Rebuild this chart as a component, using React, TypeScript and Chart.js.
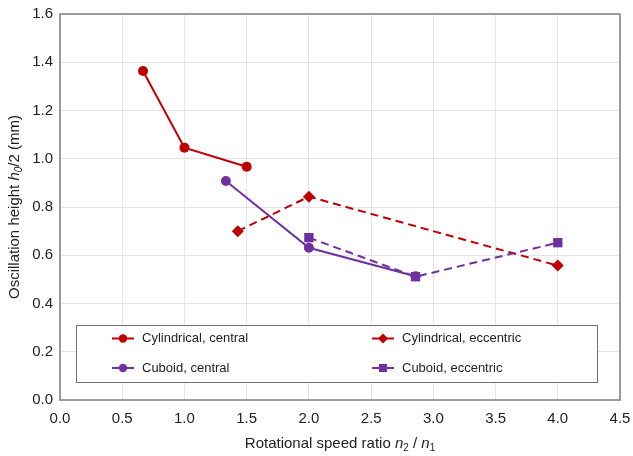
import React, { useEffect, useRef } from "react";
import { Chart, registerables } from "chart.js";

Chart.register(...registerables);

const RED = "#C00000";
const PURPLE = "#7030A0";
const FONT = "'Liberation Sans', Arial, sans-serif";

// Cylindrical, central
const cylCentralX = [0.667, 1.0, 1.5];
const cylCentralY = [1.364, 1.046, 0.967];
// Cuboid, central
const cubCentralX = [1.333, 2.0, 2.857];
const cubCentralY = [0.908, 0.631, 0.513];
// Cylindrical, eccentric
const cylEccX = [1.429, 2.0, 4.0];
const cylEccY = [0.7, 0.843, 0.557];
// Cuboid, eccentric
const cubEccX = [2.0, 2.857, 4.0];
const cubEccY = [0.673, 0.511, 0.652];

const seriesLabels = [
  "Cylindrical, central",
  "Cylindrical, eccentric",
  "Cuboid, central",
  "Cuboid, eccentric",
];

const xMin = 0, xMax = 4.5, xStep = 0.5;
const yMin = 0, yMax = 1.6, yStep = 0.2;

const pts = (xs: number[], ys: number[]) => xs.map((x, i) => ({ x, y: ys[i] }));

type Seg = { t: string; italic?: boolean; sub?: boolean };

function drawRich(ctx: CanvasRenderingContext2D, segs: Seg[], size: number) {
  const fontFor = (s: Seg) =>
    `${s.italic ? "italic " : ""}${s.sub ? Math.round(size * 0.67) : size}px ${FONT}`;
  let total = 0;
  const widths = segs.map((s) => {
    ctx.font = fontFor(s);
    const w = ctx.measureText(s.t).width;
    total += w;
    return w;
  });
  let x = -total / 2;
  segs.forEach((s, i) => {
    ctx.font = fontFor(s);
    ctx.fillText(s.t, x, s.sub ? size * 0.3 : 0);
    x += widths[i];
  });
}

const extrasPlugin = {
  id: "extras",
  beforeDatasetsDraw(chart: any) {
    const { ctx, chartArea: a } = chart;
    // legend box
    const left = a.left + 16;
    const right = a.right - 23;
    const top = a.bottom - 75;
    const bottom = a.bottom - 18;
    ctx.save();
    ctx.fillStyle = "#ffffff";
    ctx.fillRect(left, top, right - left, bottom - top);
    ctx.strokeStyle = "#707070";
    ctx.lineWidth = 1;
    ctx.strokeRect(left + 0.5, top + 0.5, right - left, bottom - top);

    const entries = [
      { label: seriesLabels[0], color: RED, shape: "circle", col: 0, row: 0 },
      { label: seriesLabels[1], color: RED, shape: "diamond", col: 1, row: 0 },
      { label: seriesLabels[2], color: PURPLE, shape: "circle", col: 0, row: 1 },
      { label: seriesLabels[3], color: PURPLE, shape: "square", col: 1, row: 1 },
    ];
    entries.forEach((e) => {
      const lx = left + (e.col === 0 ? 36 : 296);
      const ly = top + 13.5 + e.row * 29.5;
      ctx.strokeStyle = e.color;
      ctx.fillStyle = e.color;
      ctx.lineWidth = 2;
      ctx.beginPath();
      ctx.moveTo(lx, ly);
      ctx.lineTo(lx + 22, ly);
      ctx.stroke();
      const cx = lx + 11;
      ctx.beginPath();
      if (e.shape === "circle") {
        ctx.arc(cx, ly, 4.2, 0, Math.PI * 2);
      } else if (e.shape === "diamond") {
        ctx.moveTo(cx, ly - 5);
        ctx.lineTo(cx + 5, ly);
        ctx.lineTo(cx, ly + 5);
        ctx.lineTo(cx - 5, ly);
        ctx.closePath();
      } else {
        ctx.rect(cx - 4, ly - 4, 8, 8);
      }
      ctx.fill();
      ctx.fillStyle = "#222222";
      ctx.font = `13px ${FONT}`;
      ctx.textAlign = "left";
      ctx.textBaseline = "middle";
      ctx.fillText(e.label, lx + 30, ly);
    });
    ctx.restore();
  },
  afterDraw(chart: any) {
    const { ctx, chartArea: a } = chart;
    ctx.save();
    ctx.strokeStyle = "#808080";
    ctx.lineWidth = 1.5;
    ctx.strokeRect(a.left, a.top, a.right - a.left, a.bottom - a.top);

    ctx.fillStyle = "#222222";
    ctx.textAlign = "left";
    ctx.textBaseline = "middle";
    // x title
    ctx.save();
    ctx.translate((a.left + a.right) / 2, 444);
    drawRich(
      ctx,
      [
        { t: "Rotational speed ratio " },
        { t: "n", italic: true },
        { t: "2", sub: true },
        { t: " / " },
        { t: "n", italic: true },
        { t: "1", sub: true },
      ],
      15
    );
    ctx.restore();
    // y title
    ctx.save();
    ctx.translate(15, (a.top + a.bottom) / 2);
    ctx.rotate(-Math.PI / 2);
    drawRich(
      ctx,
      [
        { t: "Oscillation height " },
        { t: "h", italic: true },
        { t: "0", sub: true, italic: true },
        { t: "/2 (mm)" },
      ],
      15
    );
    ctx.restore();
    ctx.restore();
  },
};

export default function App() {
  const ref = useRef<HTMLCanvasElement | null>(null);
  useEffect(() => {
    if (!ref.current) return;
    const chart = new Chart(ref.current, {
      type: "line",
      data: {
        datasets: [
          {
            label: seriesLabels[3],
            data: pts(cubEccX, cubEccY),
            borderColor: PURPLE,
            backgroundColor: PURPLE,
            borderWidth: 2,
            borderDash: [8, 5],
            pointStyle: "rect",
            pointRadius: 6.6,
            pointBorderWidth: 0,
          },
          {
            label: seriesLabels[1],
            data: pts(cylEccX, cylEccY),
            borderColor: RED,
            backgroundColor: RED,
            borderWidth: 2,
            borderDash: [8, 5],
            pointStyle: "rectRot",
            pointRadius: 6,
            pointBorderWidth: 0,
          },
          {
            label: seriesLabels[2],
            data: pts(cubCentralX, cubCentralY),
            borderColor: PURPLE,
            backgroundColor: PURPLE,
            borderWidth: 2,
            pointStyle: "circle",
            pointRadius: 5,
            pointBorderWidth: 0,
          },
          {
            label: seriesLabels[0],
            data: pts(cylCentralX, cylCentralY),
            borderColor: RED,
            backgroundColor: RED,
            borderWidth: 2,
            pointStyle: "circle",
            pointRadius: 5,
            pointBorderWidth: 0,
          },
        ],
      },
      options: {
        animation: false,
        responsive: false,
        maintainAspectRatio: false,
        layout: { padding: { top: 14, right: 13, left: 0, bottom: 0 } },
        plugins: { legend: { display: false }, tooltip: { enabled: false } },
        scales: {
          x: {
            type: "linear",
            min: xMin,
            max: xMax,
            ticks: {
              stepSize: xStep,
              color: "#222222",
              font: { family: FONT, size: 15 },
              padding: 10,
              callback: (v: any) => Number(v).toFixed(1),
            },
            grid: { color: "#e4e4e4", drawTicks: false },
            border: { display: false },
            afterFit: (s: any) => {
              s.height = 56;
              s.paddingLeft = 0;
              s.paddingRight = 0;
            },
          },
          y: {
            type: "linear",
            min: yMin,
            max: yMax,
            ticks: {
              stepSize: yStep,
              color: "#222222",
              font: { family: FONT, size: 15 },
              padding: 7,
              callback: (v: any) => Number(v).toFixed(1),
            },
            grid: { color: "#e4e4e4", drawTicks: false },
            border: { display: false },
            afterFit: (s: any) => {
              s.width = 60;
              s.paddingTop = 0;
              s.paddingBottom = 0;
            },
          },
        },
      },
      plugins: [extrasPlugin],
    } as any);
    return () => chart.destroy();
  }, []);
  return (
    <div style={{ position: "absolute", left: 0, top: 0, width: 633, height: 456, background: "#fff" }}>
      <canvas ref={ref} width={633} height={456} style={{ width: 633, height: 456, display: "block" }} />
    </div>
  );
}
